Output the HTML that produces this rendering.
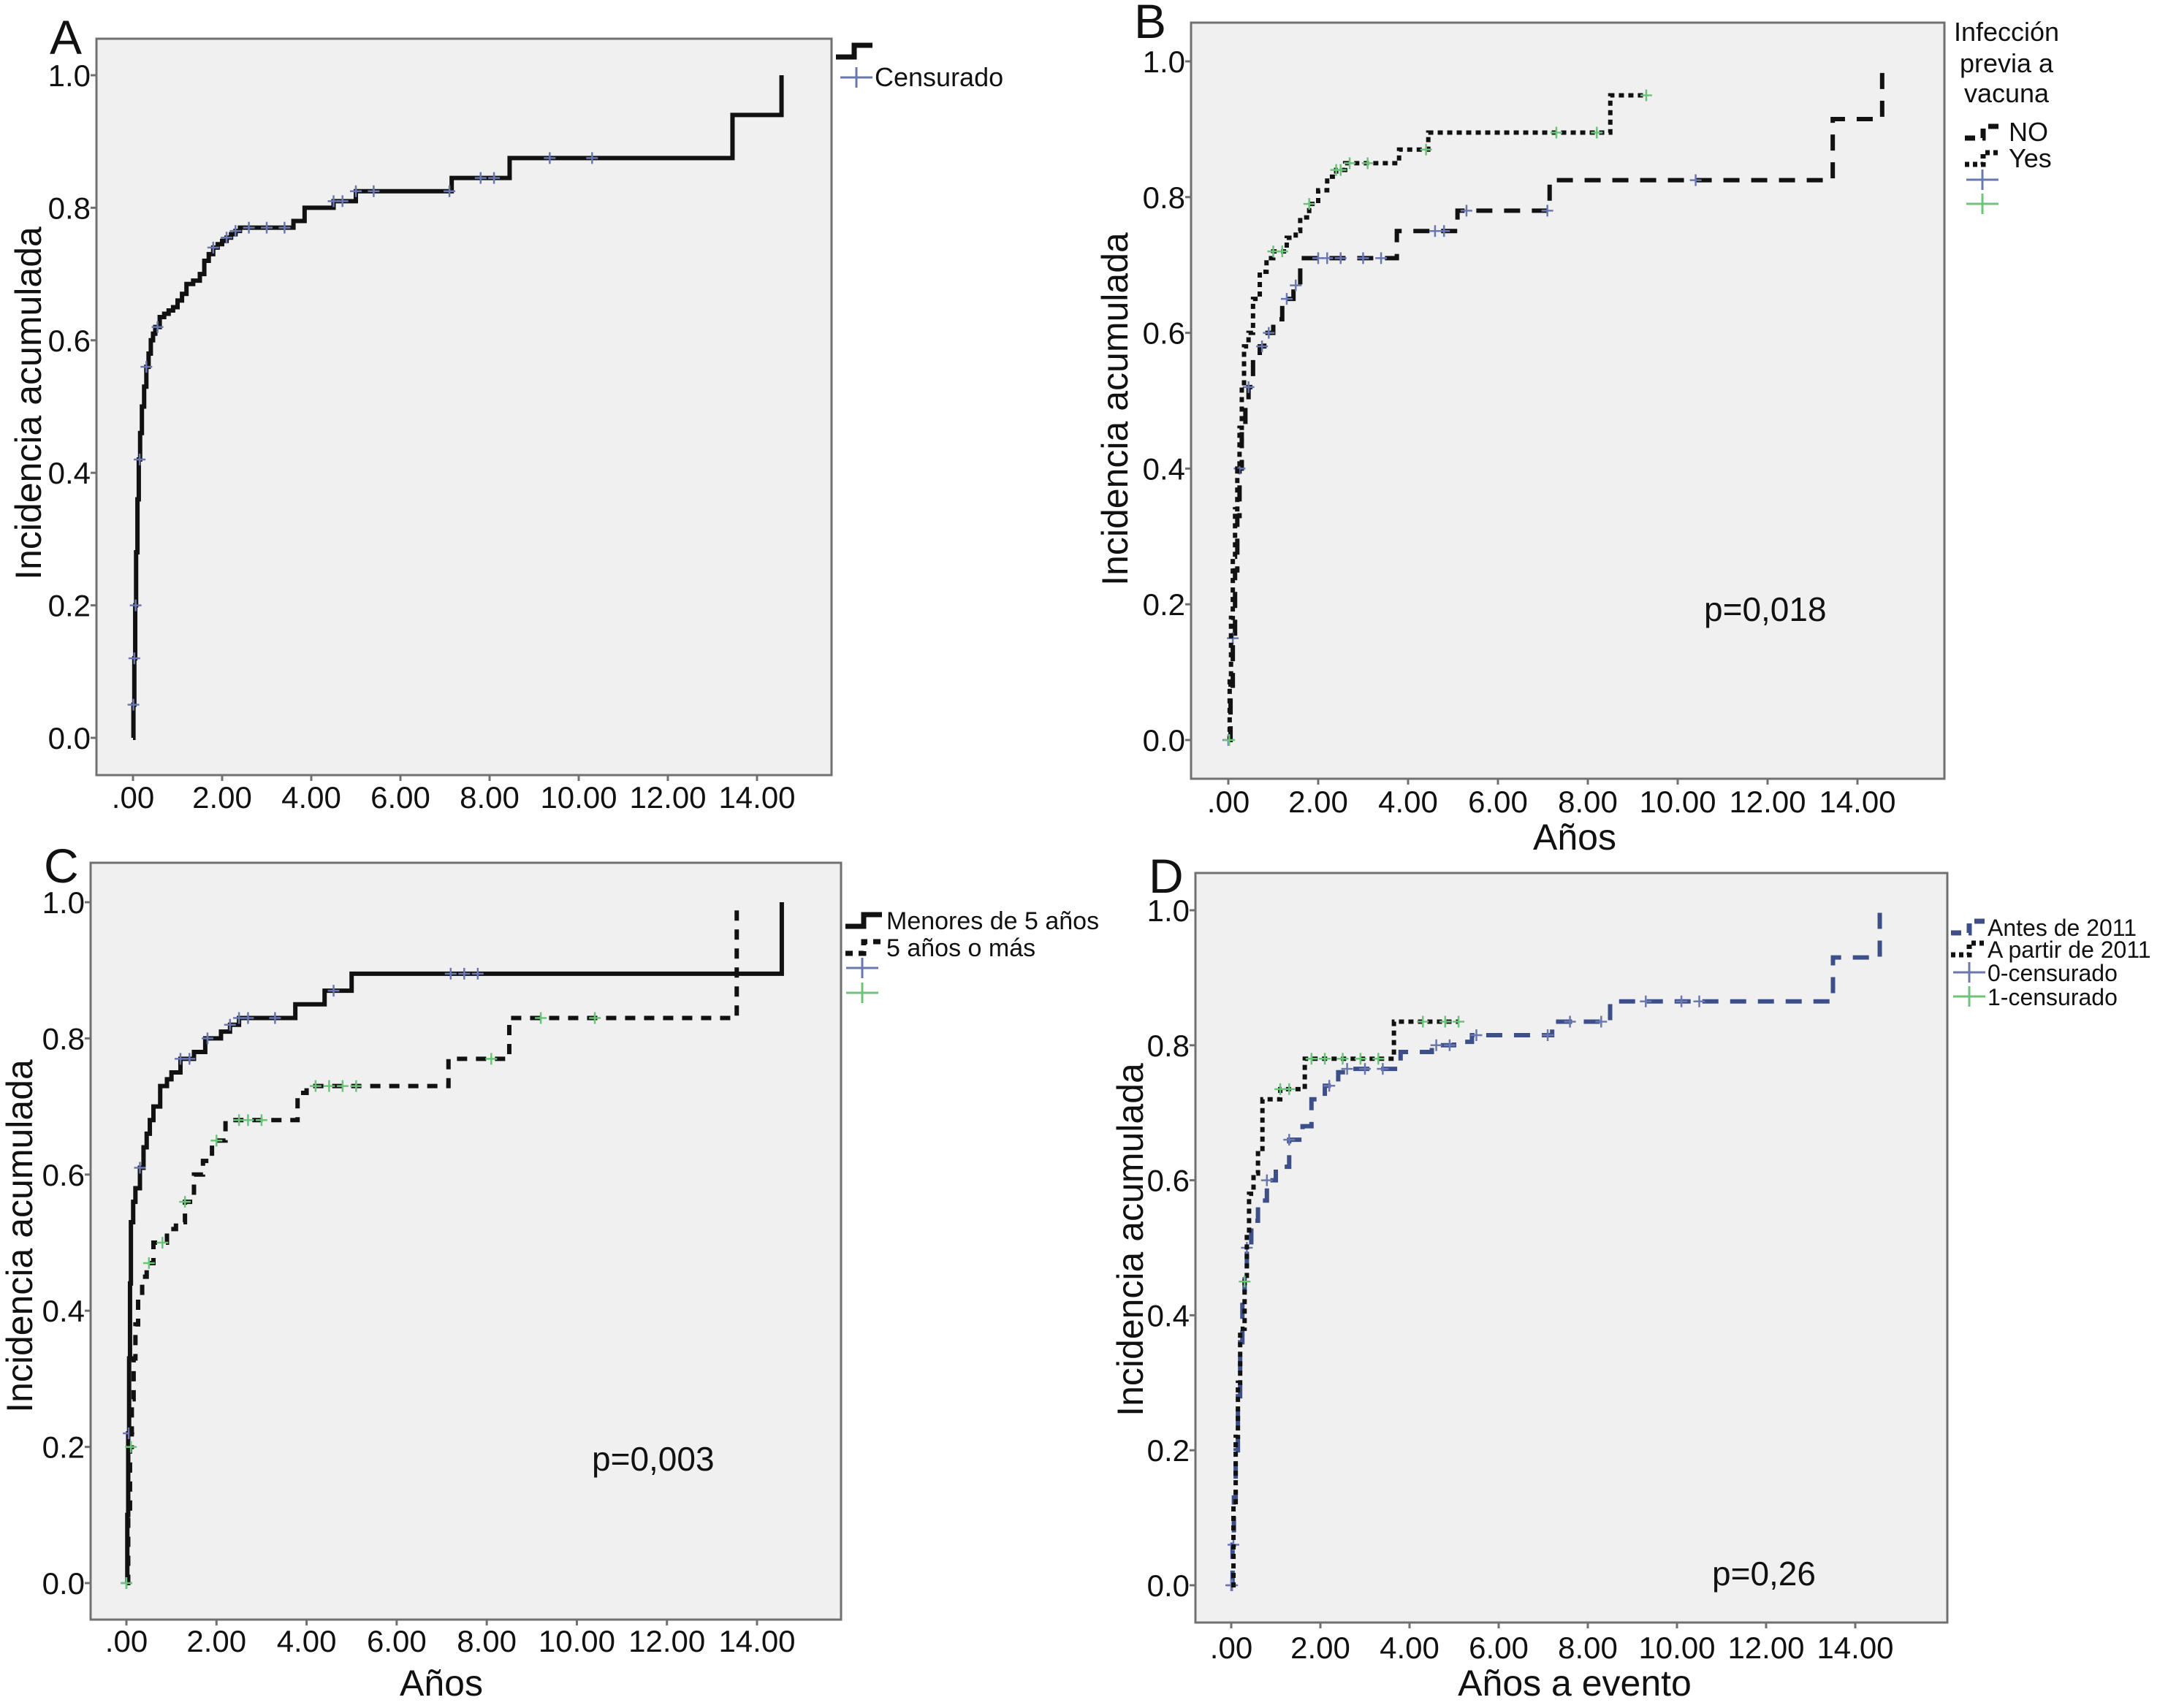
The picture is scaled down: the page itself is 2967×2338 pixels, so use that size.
<!DOCTYPE html>
<html><head><meta charset="utf-8"><style>
html,body{margin:0;padding:0;background:#fff;}
svg{display:block;font-family:"Liberation Sans",sans-serif;}
</style></head><body>
<svg id="fig" width="2967" height="2338" viewBox="0 0 2967 2338" xmlns="http://www.w3.org/2000/svg"></svg>
<script>
// ---- Data: Panel A ----
const aTimes=[0,0.01,0.03,0.05,0.07,0.1,0.13,0.16,0.2,0.25,0.3,0.35,0.4,0.45,0.5,0.6,0.7,0.8,0.9,1.0,1.1,1.2,1.35,1.5,1.6,1.7,1.8,1.9,2.0,2.1,2.2,2.3,2.4,3.6,3.85,4.5,5.0,7.15,8.45,13.45,14.55];
const aVals=[0,0.05,0.12,0.2,0.28,0.36,0.42,0.46,0.5,0.53,0.56,0.58,0.6,0.61,0.62,0.635,0.64,0.645,0.65,0.66,0.67,0.685,0.69,0.7,0.72,0.73,0.74,0.745,0.75,0.755,0.76,0.765,0.77,0.78,0.80,0.81,0.825,0.845,0.875,0.94,1.0];
const aCens=[0.01,0.03,0.06,0.15,0.3,0.55,1.8,2.1,2.3,2.6,3.0,3.4,4.5,4.7,5.0,5.4,7.1,7.8,8.1,9.35,10.3];
// ---- Panel B ----
const bNoTimes=[0,0.05,0.1,0.15,0.2,0.25,0.3,0.38,0.45,0.55,0.7,0.8,1.0,1.2,1.45,1.6,3.75,5.1,7.15,13.45,14.55];
const bNoVals=[0,0.08,0.15,0.25,0.33,0.4,0.46,0.5,0.52,0.56,0.58,0.6,0.62,0.65,0.67,0.71,0.75,0.78,0.825,0.915,1.0];
const bNoCens=[0.0,0.1,0.25,0.45,0.75,0.9,1.3,1.5,2.0,2.2,2.5,3.0,3.4,4.6,4.8,5.3,7.1,10.4];
const bYesTimes=[0,0.03,0.06,0.1,0.15,0.2,0.25,0.3,0.35,0.45,0.55,0.7,0.85,1.0,1.3,1.5,1.6,1.8,2.0,2.2,2.4,2.6,3.8,4.45,8.5];
const bYesVals=[0,0.09,0.18,0.27,0.34,0.4,0.46,0.52,0.58,0.6,0.65,0.69,0.71,0.72,0.74,0.75,0.77,0.79,0.81,0.83,0.84,0.85,0.87,0.895,0.95];
const bYesCens=[0.02,1.0,1.2,1.8,2.4,2.5,2.7,3.1,4.4,7.3,8.2,9.3];
// ---- Panel C ----
const cMenTimes=[0,0.02,0.04,0.06,0.08,0.1,0.15,0.2,0.3,0.38,0.45,0.52,0.6,0.75,0.9,1.0,1.2,1.5,1.75,2.1,2.3,2.5,3.75,4.4,5.0,14.55];
const cMenVals=[0,0.1,0.22,0.33,0.44,0.53,0.56,0.58,0.61,0.64,0.66,0.68,0.7,0.73,0.74,0.75,0.77,0.78,0.8,0.81,0.82,0.83,0.85,0.87,0.895,1.0];
const cMenCens=[0.0,0.05,0.3,1.2,1.4,1.8,2.3,2.5,2.7,3.3,4.6,7.2,7.5,7.8];
const cMayTimes=[0,0.04,0.08,0.12,0.16,0.2,0.26,0.35,0.45,0.6,0.9,1.1,1.3,1.5,1.7,1.9,2.2,3.8,4.0,7.15,8.5,13.55];
const cMayVals=[0,0.1,0.2,0.27,0.33,0.38,0.42,0.45,0.47,0.5,0.52,0.53,0.56,0.6,0.62,0.65,0.68,0.72,0.73,0.77,0.83,1.0];
const cMayCens=[0.0,0.1,0.5,0.8,1.3,2.0,2.5,2.7,3.0,4.2,4.5,4.8,5.1,8.1,9.2,10.4];
// ---- Panel D ----
const dAntTimes=[0,0.03,0.06,0.1,0.15,0.2,0.25,0.3,0.35,0.45,0.6,0.8,1.0,1.3,1.6,1.8,2.1,2.4,2.6,3.8,4.5,5.0,5.4,7.2,8.5,13.5,14.55];
const dAntVals=[0,0.06,0.13,0.2,0.28,0.36,0.42,0.46,0.5,0.54,0.57,0.6,0.62,0.66,0.68,0.72,0.74,0.76,0.765,0.79,0.80,0.805,0.815,0.835,0.865,0.93,1.0];
const dAntCens=[0.0,0.02,0.05,0.35,0.8,1.3,2.2,2.6,3.0,3.4,4.6,4.9,5.5,7.1,7.6,8.3,9.3,10.1,10.5];
const dParTimes=[0,0.05,0.1,0.15,0.2,0.3,0.35,0.4,0.5,0.6,0.7,1.1,1.65,3.65];
const dParVals=[0,0.12,0.22,0.3,0.38,0.45,0.52,0.58,0.61,0.64,0.72,0.735,0.78,0.835];
const dParCens=[0.3,1.1,1.3,1.8,2.1,2.5,2.9,3.3,4.3,4.8,5.1];
const xTicks=[".00","2.00","4.00","6.00","8.00","10.00","12.00","14.00"];
const yTicks=["0.0","0.2","0.4","0.6","0.8","1.0"];

const NS="http://www.w3.org/2000/svg";
const svg=document.getElementById('fig');
function mk(tag,attrs,parent){const e=document.createElementNS(NS,tag);for(const k in attrs)e.setAttribute(k,attrs[k]);(parent||svg).appendChild(e);return e;}
function txt(s,attrs,parent){const e=mk('text',attrs,parent);e.textContent=s;return e;}

const BLUE="#6b78b0", GREEN="#6cc47a";
function panel(p){
  const g=mk('g',{});
  
  
  const xs=v=>p.x0+(p.x14-p.x0)*v/14;
  const ys=v=>p.y0+(p.y1-p.y0)*v;
  const bg=mk('rect',{x:p.bx0,y:p.by0,width:p.bx1-p.bx0,height:p.by1-p.by0,fill:"#f0f0f0",stroke:"#707070","stroke-width":3},g);
  
  
  yTicks.forEach((t,i)=>{
    const y=ys(i*0.2);
    mk('line',{x1:p.bx0-8,x2:p.bx0,y1:y,y2:y,stroke:"#707070","stroke-width":3},g);
    const e=txt(t,{x:p.bx0-8,y:y+15,"font-size":42,"text-anchor":"end",fill:"#111"},g);
    
    
  });
  xTicks.forEach((t,i)=>{
    const x=xs(i*2);
    mk('line',{x1:x,x2:x,y1:p.by1,y2:p.by1+8,stroke:"#707070","stroke-width":3},g);
    const e=txt(t,{x:x,y:p.xly,"font-size":42,"text-anchor":"middle",fill:"#111"},g);
    
    
  });
  p.series.forEach(s=>{
    let d="M"+xs(s.t[0])+","+ys(s.v[0]);
    for(let i=1;i<s.t.length;i++){d+=" H"+xs(s.t[i])+" V"+ys(s.v[i]);}
    if(s.end!==undefined) d+=" H"+xs(s.end);
    const path=mk('path',{d:d,fill:"none",stroke:s.color,"stroke-width":s.w||6,"stroke-dasharray":s.dash||"none"},g);
    
    
    s.c.forEach(ct=>{
      let v=s.v[0];
      for(let i=0;i<s.t.length;i++){if(s.t[i]<=ct)v=s.v[i];}
      const cx=xs(ct),cy=ys(v);
      const m=mk('path',{d:`M${cx-8},${cy} H${cx+8} M${cx},${cy-8} V${cy+8}`,stroke:s.cc,"stroke-width":2.5,fill:"none"},g);
      
      
    });
  });
  const L=txt(p.id,{x:p.lx,y:p.ly,"font-size":66,fill:"#111"},g);
  
  
  const yt=txt("Incidencia acumulada",{x:0,y:0,"font-size":50,"text-anchor":"middle",fill:"#111",transform:`translate(${p.ytx},${p.yty}) rotate(-90)`},g);
  
  
  if(p.xt){const e=txt(p.xt,{x:p.xtx,y:p.xty,"font-size":50,"text-anchor":"middle",fill:"#111"},g);
    }
  if(p.pv){const e=txt(p.pv,{x:p.pvx,y:p.pvy,"font-size":46,fill:"#111"},g);
    }
  return g;
}

panel({id:"A",bx0:132,bx1:1138,by0:53,by1:1061,x0:182,x14:1036,y0:1010,y1:103,xly:1106,lx:68,ly:74,ytx:56,yty:552,
  series:[{name:"cumulative",t:aTimes,v:aVals,c:aCens,color:"#111",cc:BLUE}]});
panel({id:"B",bx0:1630,bx1:2661,by0:31,by1:1066,x0:1681,x14:2542,y0:1013,y1:84,xly:1112,lx:1552,ly:52,ytx:1543,yty:560,
  xt:"Años",xtx:2155,xty:1163,pv:"p=0,018",pvx:2332,pvy:850,
  series:[{name:"no",t:bNoTimes,v:bNoVals,c:bNoCens,color:"#111",dash:"22 16",cc:BLUE},
          {name:"yes",t:bYesTimes,v:bYesVals,c:bYesCens,color:"#111",dash:"7 6",end:9.3,cc:GREEN}]});
panel({id:"C",bx0:124,bx1:1151,by0:1181,by1:2217,x0:173,x14:1036,y0:2167,y1:1235,xly:2261,lx:60,ly:1208,ytx:44,yty:1692,
  xt:"Años",xtx:604,xty:2321,pv:"p=0,003",pvx:810,pvy:2013,
  series:[{name:"menores",t:cMenTimes,v:cMenVals,c:cMenCens,color:"#111",cc:BLUE},
          {name:"mayores",t:cMayTimes,v:cMayVals,c:cMayCens,color:"#111",dash:"14 12",cc:GREEN}]});
panel({id:"D",bx0:1636,bx1:2665,by0:1195,by1:2221,x0:1685,x14:2539,y0:2170,y1:1246,xly:2270,lx:1572,ly:1222,ytx:1564,yty:1697,
  xt:"Años a evento",xtx:2155,xty:2321,pv:"p=0,26",pvx:2343,pvy:2170,
  series:[{name:"antes",t:dAntTimes,v:dAntVals,c:dAntCens,color:"#3c4f88",dash:"22 16",cc:BLUE},
          {name:"a-partir",t:dParTimes,v:dParVals,c:dParCens,color:"#111",dash:"7 6",end:5.1,cc:GREEN}]});

// ---- Legends ----
function legLine(x,y,dash,color,name){
  const e=mk('path',{d:`M${x},${y+8} H${x+25} V${y-8} H${x+50}`,fill:"none",stroke:color,"stroke-width":7,"stroke-dasharray":dash||"none"});
  
  
}
function legCross(x,y,color,name){
  const e=mk('path',{d:`M${x-22},${y} H${x+22} M${x},${y-14} V${y+14}`,stroke:color,"stroke-width":3,fill:"none"});
  
  
}
function legText(s,x,y,fs,anchor){
  const e=txt(s,{x:x,y:y,"font-size":fs,fill:"#111","text-anchor":anchor||"start"});
  
  
}
// A
legLine(1144,70,null,"#111",'legend-line-a');
legCross(1172,106,BLUE,'legend-censor-a');
legText("Censurado",1197,118,36);
// B
legText("Infección",2746,56,36,"middle");
legText("previa a",2746,99,36,"middle");
legText("vacuna",2746,140,36,"middle");
legLine(2689,181,"14 10","#111",'legend-no');
legText("NO",2749,193,36);
legLine(2689,217,"6 5","#111",'legend-yes');
legText("Yes",2749,229,36);
legCross(2713,246,BLUE,'legend-censor-no');
legCross(2713,279,GREEN,'legend-censor-yes');
// C
legLine(1157,1260,null,"#111",'legend-menores');
legText("Menores de 5 años",1213,1272,34);
legLine(1157,1297,"10 8","#111",'legend-mayores');
legText("5 años o más",1213,1309,34);
legCross(1180,1325,BLUE,'legend-censor-menores');
legCross(1180,1359,GREEN,'legend-censor-mayores');
// D
legLine(2670,1269,"14 10","#3c4f88",'legend-antes');
legText("Antes de 2011",2720,1281,32);
legLine(2670,1299,"6 5","#111",'legend-a-partir');
legText("A partir de 2011",2720,1311,32);
legCross(2695,1331,BLUE,'legend-censor-0');
legText("0-censurado",2720,1343,32);
legCross(2695,1364,GREEN,'legend-censor-1');
legText("1-censurado",2720,1376,32);
</script>
</body></html>
